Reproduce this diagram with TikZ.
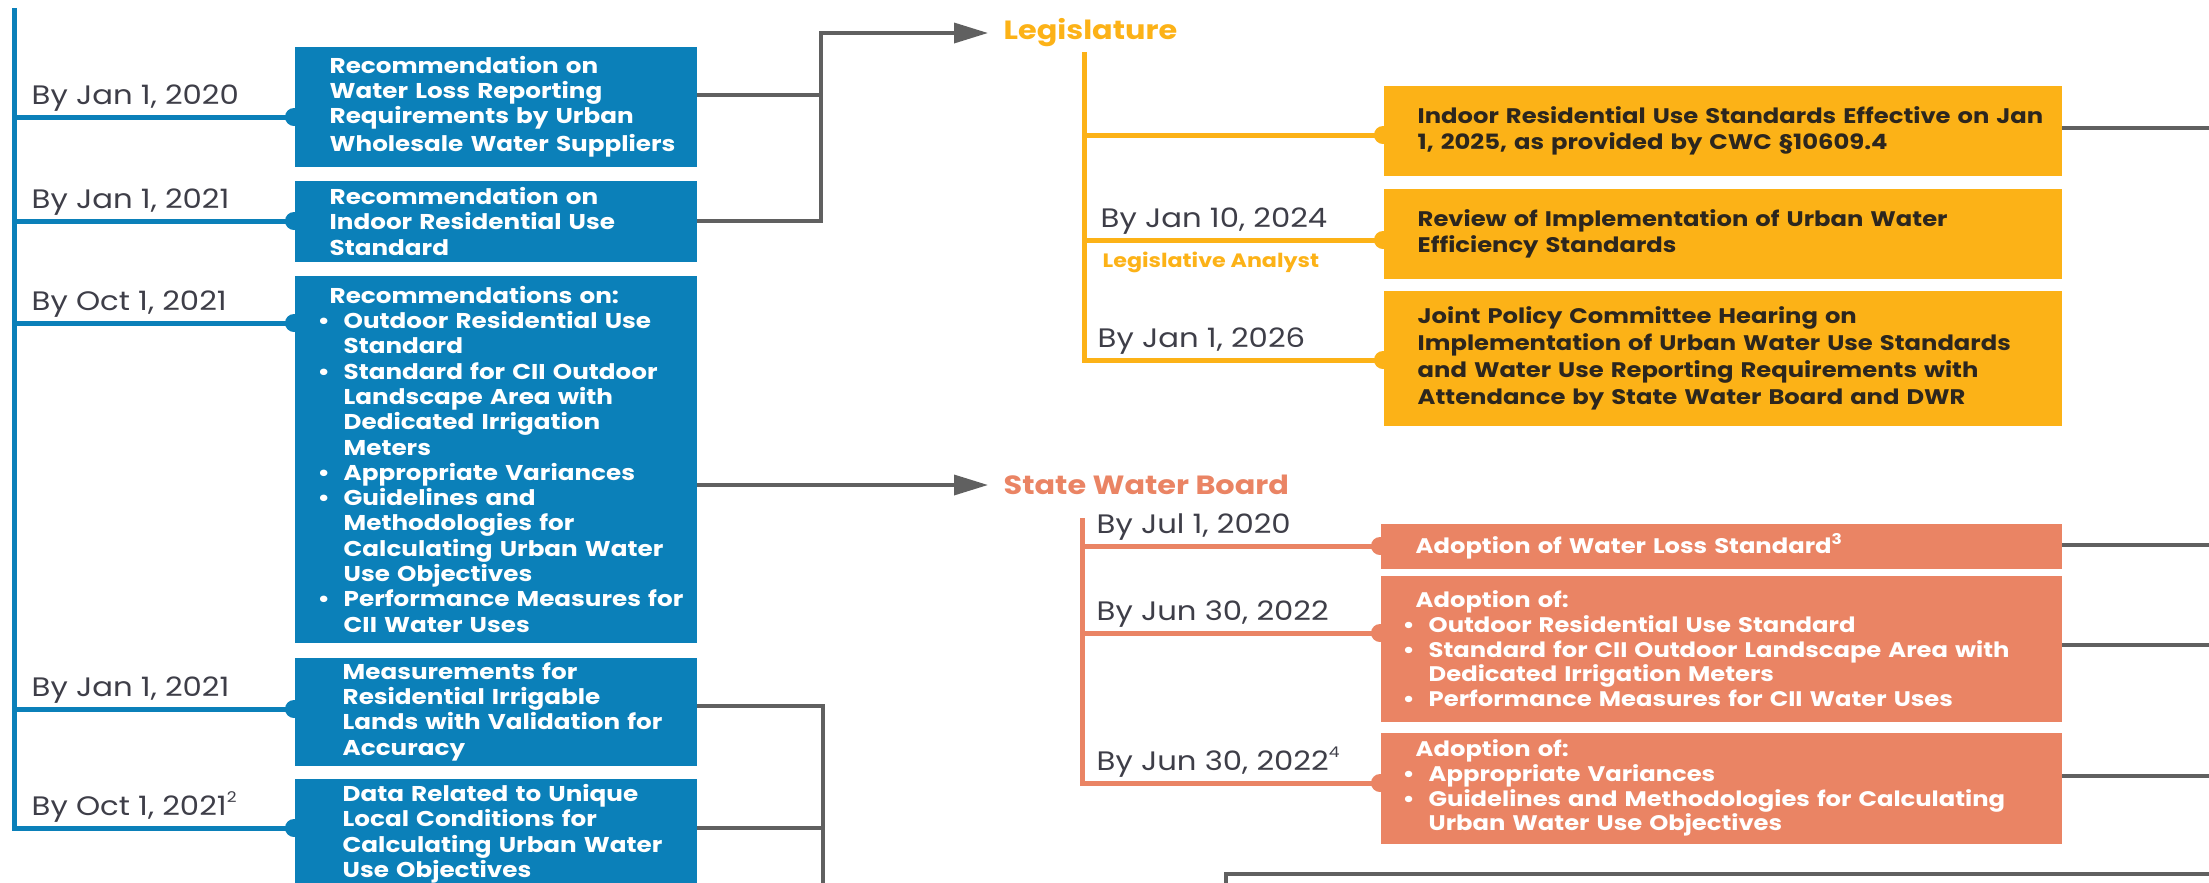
\documentclass[tikz,border=0pt]{standalone}
\usepackage{fontspec}
\setmainfont{Poppins}[FakeStretch=1.15]
\usetikzlibrary{arrows.meta}

\definecolor{wblue}{RGB}{11,128,185}
\definecolor{wgold}{RGB}{252,178,23}
\definecolor{wsalmon}{RGB}{234,132,100}
\definecolor{wgray}{RGB}{96,96,96}
\definecolor{wdate}{RGB}{62,62,72}
\definecolor{wdark}{RGB}{44,38,30}

\newcommand{\bitem}{\par\hangindent=2.6mm\hangafter=1\makebox[2.6mm][l]{\textbullet}}
\newcommand{\sups}[1]{\raisebox{0.45em}{\fontsize{4.2}{4.2}\selectfont #1}}

\begin{document}
\begin{tikzpicture}[x=0.1mm, y=-0.1mm,
  gline/.style={draw=wgray, line width=0.35mm},
  tline/.style={line width=0.5mm},
  box/.style={anchor=north west, inner sep=0pt, align=left, text width=#1, minimum width=#1,
    font=\bfseries\fontsize{6.1}{7.2}\selectfont},
  pad/.style={execute at begin node={\leftskip=#1\rightskip=-6mm plus 1fil\relax}},
  bluebox/.style={box=40.2mm, fill=wblue, text=white},
  goldbox/.style={box=67.8mm, fill=wgold, text=wdark, font=\bfseries\fontsize{6}{7.2}\selectfont},
  salmonbox/.style={box=68.1mm, fill=wsalmon, text=white, font=\bfseries\fontsize{6}{7}\selectfont},
  date/.style={anchor=base west, inner sep=0pt, text=wdate, font=\fontsize{7.6}{9}\selectfont},
  head/.style={anchor=west, inner sep=0pt, font=\bfseries\fontsize{7.5}{9}\selectfont},
  arr/.style={-{Triangle[length=3.4mm, width=2mm]}, shorten >=1.5mm}]

\useasboundingbox (0,0) rectangle (2209,882);

\node[bluebox, pad=3.5mm, minimum height=12mm] (b1) at (294,46)
  {Recommendation on\\Water Loss Reporting\\Requirements by Urban\\[0.8pt]Wholesale Water Suppliers};
\node[bluebox, pad=3.5mm, minimum height=8.1mm] (b2) at (294,180)
  {Recommendation on\\Indoor Residential Use\\Standard};
\node[bluebox, pad=2.3mm, minimum height=36.7mm] (b3) at (294,275)
  {\hspace*{1.2mm}Recommendations on:
   \bitem Outdoor Residential Use\newline Standard
   \bitem Standard for CII Outdoor\newline Landscape Area with\newline Dedicated Irrigation\newline Meters
   \bitem Appropriate Variances
   \bitem Guidelines and\newline Methodologies for\newline Calculating Urban Water\newline Use Objectives
   \bitem Performance Measures for\newline CII Water Uses\par};
\node[bluebox, pad=4.8mm, minimum height=10.8mm] (b4) at (294,657)
  {Measurements for\\Residential Irrigable\\Lands with Validation for\\Accuracy};
\node[bluebox, pad=4.8mm, minimum height=11mm] (b5) at (294,778)
  {Data Related to Unique\\Local Conditions for\\Calculating Urban Water\\Use Objectives};

\node[goldbox, pad=3.4mm, minimum height=9mm] (l1) at (1383,85)
  {Indoor Residential Use Standards Effective on Jan\\1, 2025, as provided by CWC §10609.4};
\node[goldbox, pad=3.4mm, minimum height=9mm] (l2) at (1383,188)
  {Review of Implementation of Urban Water\\Efficiency Standards};
\node[goldbox, pad=3.4mm, minimum height=13.5mm, font=\bfseries\fontsize{6}{7.7}\selectfont] (l3) at (1383,290)
  {Joint Policy Committee Hearing on\\Implementation of Urban Water Use Standards\\and Water Use Reporting Requirements with\\Attendance by State Water Board and DWR};

\node[salmonbox, pad=3.5mm, minimum height=4.5mm] (s1) at (1380,523)
  {Adoption of Water Loss Standard\sups{3}};
\node[salmonbox, pad=2.2mm, minimum height=14.6mm] (s2) at (1380,575)
  {\hspace*{1.3mm}Adoption of:
   \bitem Outdoor Residential Use Standard
   \bitem Standard for CII Outdoor Landscape Area with\newline Dedicated Irrigation Meters
   \bitem Performance Measures for CII Water Uses\par};
\node[salmonbox, pad=2.2mm, minimum height=11.1mm] (s3) at (1380,732)
  {\hspace*{1.3mm}Adoption of:
   \bitem Appropriate Variances
   \bitem Guidelines and Methodologies for Calculating\newline Urban Water Use Objectives\par};

\node[head, text=wgold] (leg) at (1003,33) {Legislature};
\node[head, text=wsalmon] (swb) at (1003,485) {State Water Board};

\coordinate (btop) at (14,8);
\coordinate (gtop) at (1084,52);
\coordinate (stop) at (1082,518);
\coordinate (lj) at (821,33);
\coordinate (lj2) at (823,900);
\coordinate (redge) at (2215,0);
\coordinate (bc) at (1226,900);

\draw[tline, wblue] (btop) |- (b5.west |- 0,828);
\foreach \n/\y/\d in {b1/117/{By Jan 1, 2020}, b2/221/{By Jan 1, 2021}, b3/323/{By Oct 1, 2021},
    b4/709/{By Jan 1, 2021}, b5/828/{By Oct 1, 2021\sups{2}}}{
  \draw[tline, wblue] (btop |- 0,\y) -- (\n.west |- 0,\y);
  \fill[wblue] (\n.west |- 0,\y) circle (0.9mm);
  \node[date] (d\n) at (31,\y-13) {\d};
}

\draw[tline, wgold] (gtop) |- (l3.west |- 0,360);
\foreach \n/\y in {l1/135, l2/240, l3/360}{
  \draw[tline, wgold] (gtop |- 0,\y) -- (\n.west |- 0,\y);
  \fill[wgold] (\n.west |- 0,\y) circle (0.9mm);
}
\node[date] (dl2) at (1100,227) {By Jan 10, 2024};
\node[date] (dl3) at (1097,347) {By Jan 1, 2026};
\node[date, text=wgold, font=\bfseries\fontsize{5.5}{6}\selectfont] (la) at (1102,267) {Legislative Analyst};

\draw[tline, wsalmon] (stop) |- (s3.west |- 0,783);
\foreach \n/\y/\d in {s1/546/{By Jul 1, 2020}, s2/633/{By Jun 30, 2022}, s3/783/{By Jun 30, 2022\sups{4}}}{
  \draw[tline, wsalmon] (stop |- 0,\y) -- (\n.west |- 0,\y);
  \fill[wsalmon] (\n.west |- 0,\y) circle (0.9mm);
  \node[date] (d\n) at (1096,\y-13) {\d};
}

\draw[gline] (b1.east |- 0,95) -- (lj |- 0,95);
\draw[gline, arr] (b2.east) -| (lj) -- (lj -| leg.west);
\draw[gline, arr] (b3.east |- swb.west) -- (swb.west);
\draw[gline] (b4.east |- 0,706) -| (lj2);
\draw[gline] (b5.east |- 0,828) -- (lj2 |- 0,828);
\foreach \n/\y in {l1/128, s1/545, s2/645, s3/776}
  \draw[gline] (\n.east |- 0,\y) -- (redge |- 0,\y);
\draw[gline] (bc) |- (redge |- 0,874);

\end{tikzpicture}
\end{document}
